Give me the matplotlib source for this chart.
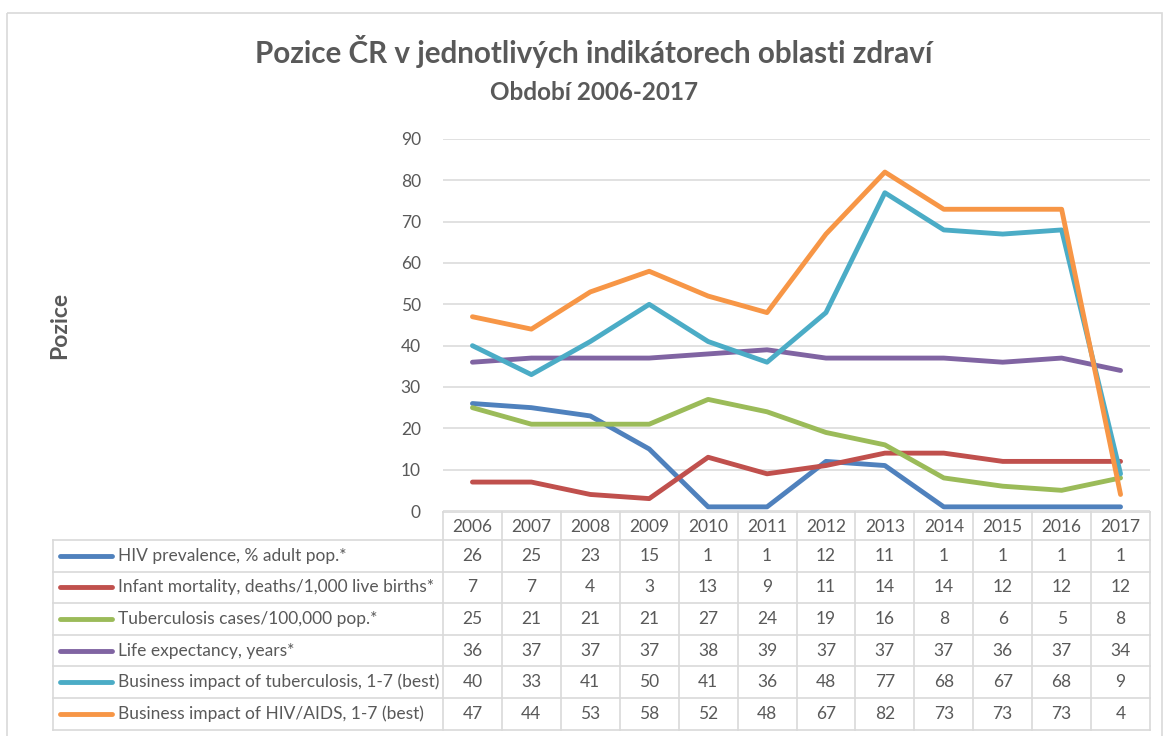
import numpy as np
import matplotlib
matplotlib.use('Agg')
import matplotlib.pyplot as plt
import matplotlib.transforms as mtransforms
from matplotlib.patches import Rectangle

plt.rcParams['font.family'] = ['Lato', 'DejaVu Sans']

years = ['2006', '2007', '2008', '2009', '2010', '2011',
         '2012', '2013', '2014', '2015', '2016', '2017']
series_names = ['HIV prevalence, % adult pop.*',
                'Infant mortality, deaths/1,000 live births*',
                'Tuberculosis cases/100,000 pop.*',
                'Life expectancy, years*',
                'Business impact of tuberculosis, 1-7 (best)',
                'Business impact of HIV/AIDS, 1-7 (best)']
hiv = [26, 25, 23, 15, 1, 1, 12, 11, 1, 1, 1, 1]
infant = [7, 7, 4, 3, 13, 9, 11, 14, 14, 12, 12, 12]
tbc = [25, 21, 21, 21, 27, 24, 19, 16, 8, 6, 5, 8]
life = [36, 37, 37, 37, 38, 39, 37, 37, 37, 36, 37, 34]
bus_tbc = [40, 33, 41, 50, 41, 36, 48, 77, 68, 67, 68, 9]
bus_hiv = [47, 44, 53, 58, 52, 48, 67, 82, 73, 73, 73, 4]
colors = ['#4F81BD', '#C0504D', '#9BBB59', '#8064A2', '#4BACC6', '#F79646']

W, H = 1169, 736
fig = plt.figure(figsize=(W / 100, H / 100), dpi=100)
txt = '#595959'
grid = '#D9D9D9'
fs = 12.5

# overlay in pixel coordinates for frame and table
ov = fig.add_axes([0, 0, 1, 1])
ov.set_xlim(0, W)
ov.set_ylim(H, 0)
ov.axis('off')
ov.add_patch(Rectangle((7, 13), 1155, 740, fill=False, ec=grid, lw=1.2))

left, right, y0, y90 = 443, 1150, 511, 139
ax = fig.add_axes([left / W, 1 - y0 / H, (right - left) / W, (y0 - y90) / H])
ax.set_xlim(-0.5, len(years) - 0.5)
ax.set_ylim(0, 90)
ax.set_yticks(range(0, 91, 10))
ax.yaxis.grid(True, color=grid, lw=1.1)
ax.set_axisbelow(True)
for s in ax.spines.values():
    s.set_visible(False)
ax.tick_params(axis='y', length=0, pad=16, labelsize=fs, labelcolor=txt)
ax.set_xticks([])
ax.patch.set_alpha(0)

x = np.arange(len(years))
data = [hiv, infant, tbc, life, bus_tbc, bus_hiv]
for vals, c in zip(data, colors):
    ax.plot(x, vals, color=c, lw=3.5, solid_capstyle='round', solid_joinstyle='round')

# table
tr = mtransforms.blended_transform_factory(ax.transData, ov.transData)
row_top = 512
hdr_h = 28
row_h = 31.6
tab_left = 53
n = len(years)
bottom = row_top + hdr_h + row_h * len(series_names)
lc = '#D9D9D9'
for i in range(n + 1):
    ov.plot([i - 0.5, i - 0.5], [row_top, bottom], color=lc, lw=1.2, transform=tr)
ov.plot([tab_left, tab_left], [row_top + hdr_h, bottom], color=lc, lw=1.2)
ov.plot([-0.5, n - 0.5], [row_top, row_top], color=lc, lw=1.2, transform=tr)
for k in range(len(series_names) + 1):
    yy = row_top + hdr_h + k * row_h
    ov.plot([tab_left, right], [yy, yy], color=lc, lw=1.2)
for i, yr in enumerate(years):
    ov.text(i, row_top + hdr_h / 2 + 1, yr, transform=tr, ha='center', va='center',
            fontsize=fs, color=txt)
for k, (name, vals, c) in enumerate(zip(series_names, data, colors)):
    yc = row_top + hdr_h + (k + 0.5) * row_h
    ov.plot([60, 112], [yc, yc], color=c, lw=3.5, solid_capstyle='round')
    ov.text(118, yc, name, ha='left', va='center', fontsize=fs, color=txt)
    for i, v in enumerate(vals):
        ov.text(i, yc, str(v), transform=tr, ha='center', va='center',
                fontsize=fs, color=txt)

ov.text(594, 52, 'Pozice ČR v jednotlivých indikátorech oblasti zdraví', ha='center',
        va='center', fontsize=21.3, fontweight='bold', color=txt)
ov.text(594, 92, 'Období 2006-2017', ha='center', va='center', fontsize=17.5,
        fontweight='bold', color=txt)
ov.text(60, 325, 'Pozice', ha='center', va='center', rotation=90, fontsize=16.5,
        fontweight='bold', color=txt)

fig.savefig('out.png', dpi=100)
